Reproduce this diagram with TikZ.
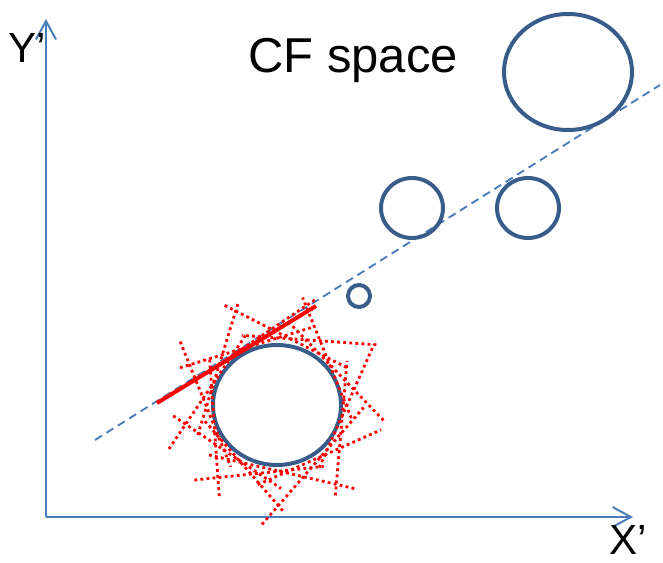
\documentclass[tikz,border=0pt]{standalone}
\usepackage{fontspec}
\setmainfont{Liberation Sans}
\usetikzlibrary{arrows.meta,calc}
\definecolor{axisblue}{RGB}{74,126,187}
\definecolor{ringblue}{RGB}{56,93,138}
\begin{document}
\begin{tikzpicture}[x=0.03cm, y=-0.03cm,
  axis/.style={draw=axisblue, line width=1.7pt, -{Straight Barb[length=5.5mm, width=6mm]}},
  ring/.style={draw=ringblue, line width=3.4pt},
  trend/.style={draw=axisblue, line width=1.6pt, dash pattern=on 7pt off 4.5pt},
  fitline/.style={draw=red, line width=3.4pt},
  tangent/.style={draw=red, line width=2.4pt, dash pattern=on 2.4pt off 2.8pt},
  lbl/.style={font=\fontsize{36}{40}\selectfont, inner sep=0pt},
  title/.style={font=\fontsize{41.8}{46}\selectfont, inner sep=0pt}
]
  \useasboundingbox (0,0) rectangle (663,563);

  % Axes
  \coordinate (origin) at (46,517);
  \coordinate (ytip) at (46,19);
  \coordinate (xtip) at (633,517);
  \draw[axis] (origin) -- (ytip);
  \draw[axis] (origin) -- (xtip);
  \node[lbl] (ylab) at (27,48) {Y’};
  \node[lbl] (xlab) at (628,540) {X’};
  \node[title] (cf) at (353,60) {CF space};

  % Trend line
  \coordinate (ds) at (95,440);
  \coordinate (de) at (660,85);
  \draw[trend] (ds) -- (de);

  % Clusters
  \coordinate (big) at (568,72);
  \coordinate (ml) at (412,208);
  \coordinate (mr) at (528,208);
  \coordinate (sm) at (359,296);
  \coordinate (main) at (277,405);
  \draw[ring] (big) ellipse [x radius=64, y radius=58];
  \draw[ring] (ml) ellipse [x radius=31, y radius=30];
  \draw[ring] (mr) ellipse [x radius=31, y radius=30];
  \draw[ring] (sm) circle [radius=11];
  \draw[ring] (main) ellipse [x radius=64, y radius=60];

  % Tangents round the main cluster
  \foreach \ang/\r/\a/\b in {5/66/50/85, 24/64/95/40, 41/67/55/100, 66/65/85/50,
      84/66/40/90, 103/64/95/55, 124/67/50/80, 139/65/85/35, 158/66/40/95,
      176/64/90/50, 197/67/55/85, 214/65/100/40, 236/66/45/90, 253/64/85/55,
      274/67/40/95, 297/65/95/45, 316/66/55/85, 338/64/90/40}
    \draw[tangent] ($(main)+(\ang:\r)+(\ang+90:\b)$) -- ($(main)+(\ang:\r)+(\ang-90:\a)$);

  \coordinate (fs) at (157,403);
  \coordinate (fe) at (316,306);
  \draw[fitline] (fs) -- (fe);
\end{tikzpicture}
\end{document}
